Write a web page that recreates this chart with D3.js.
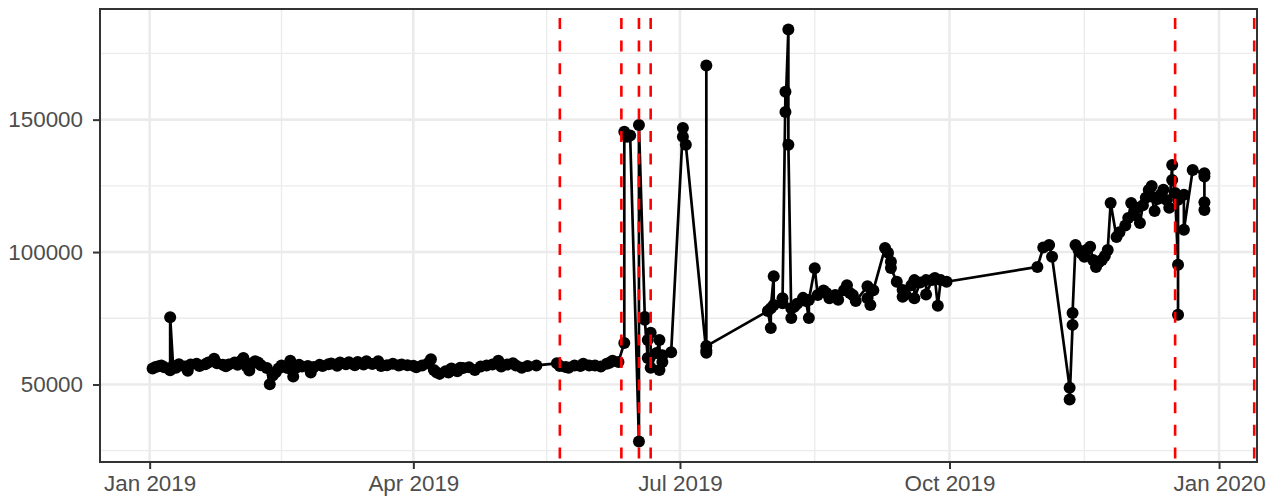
<!DOCTYPE html>
<html>
<head>
<meta charset="utf-8">
<script src="https://cdn.jsdelivr.net/npm/d3@7"></script>
<style>
  body { margin: 0; background: #fff; }
  svg text { font-family: "Liberation Sans", Arial, sans-serif; }
</style>
</head>
<body>
<svg id="chart" width="1269" height="497"></svg>
<script>
// observations, in the order they were recorded
const dates = [
  "2019-01-02","2019-01-03","2019-01-04","2019-01-05","2019-01-06","2019-01-08","2019-01-08","2019-01-09",
  "2019-01-10","2019-01-11","2019-01-13","2019-01-14","2019-01-15","2019-01-17","2019-01-18","2019-01-20",
  "2019-01-21","2019-01-23","2019-01-24","2019-01-26","2019-01-27","2019-01-28","2019-01-30","2019-01-31",
  "2019-02-01","2019-02-02","2019-02-03","2019-02-04","2019-02-05","2019-02-06","2019-02-07","2019-02-08",
  "2019-02-10","2019-02-11","2019-02-12","2019-02-13","2019-02-14","2019-02-15","2019-02-17","2019-02-18",
  "2019-02-19","2019-02-20","2019-02-21","2019-02-22","2019-02-24","2019-02-25","2019-02-26","2019-02-28",
  "2019-03-01","2019-03-03","2019-03-04","2019-03-06","2019-03-07","2019-03-09","2019-03-10","2019-03-12",
  "2019-03-13","2019-03-15","2019-03-16","2019-03-18","2019-03-20","2019-03-21","2019-03-23","2019-03-25",
  "2019-03-27","2019-03-28","2019-03-30","2019-04-01","2019-04-02","2019-04-04","2019-04-06","2019-04-07",
  "2019-04-08","2019-04-09","2019-04-10","2019-04-12","2019-04-13","2019-04-14","2019-04-16","2019-04-17",
  "2019-04-18","2019-04-20","2019-04-22","2019-04-24","2019-04-26","2019-04-28","2019-04-30","2019-05-01",
  "2019-05-03","2019-05-05","2019-05-06","2019-05-08","2019-05-10","2019-05-13","2019-05-20","2019-05-21",
  "2019-05-23","2019-05-24","2019-05-26","2019-05-28","2019-05-29","2019-05-31","2019-06-02","2019-06-04",
  "2019-06-06","2019-06-07","2019-06-08","2019-06-10","2019-06-12","2019-06-12","2019-06-13","2019-06-14",
  "2019-06-17","2019-06-17","2019-06-19","2019-06-19","2019-06-20","2019-06-20","2019-06-21","2019-06-21",
  "2019-06-23","2019-06-24","2019-06-24","2019-06-25","2019-06-25","2019-06-28","2019-07-02","2019-07-02",
  "2019-07-03","2019-07-10","2019-07-10","2019-07-10","2019-07-10","2019-07-31","2019-08-01","2019-08-01",
  "2019-08-02","2019-08-02","2019-08-05","2019-08-05","2019-08-06","2019-08-06","2019-08-07","2019-08-07",
  "2019-08-08","2019-08-08","2019-08-09","2019-08-10","2019-08-12","2019-08-13","2019-08-14","2019-08-14",
  "2019-08-16","2019-08-17","2019-08-19","2019-08-20","2019-08-21","2019-08-23","2019-08-24","2019-08-26",
  "2019-08-27","2019-08-28","2019-08-29","2019-08-30","2019-09-03","2019-09-03","2019-09-04","2019-09-05",
  "2019-09-09","2019-09-10","2019-09-11","2019-09-11","2019-09-13","2019-09-15","2019-09-15","2019-09-16",
  "2019-09-18","2019-09-19","2019-09-19","2019-09-21","2019-09-23","2019-09-23","2019-09-25","2019-09-26",
  "2019-09-27","2019-09-28","2019-09-30","2019-10-31","2019-11-02","2019-11-04","2019-11-05","2019-11-11",
  "2019-11-11","2019-11-12","2019-11-12","2019-11-13","2019-11-14","2019-11-15","2019-11-16","2019-11-17",
  "2019-11-18","2019-11-19","2019-11-20","2019-11-21","2019-11-22","2019-11-23","2019-11-24","2019-11-25",
  "2019-11-27","2019-11-28","2019-11-30","2019-12-01","2019-12-02","2019-12-03","2019-12-04","2019-12-05",
  "2019-12-06","2019-12-07","2019-12-08","2019-12-09","2019-12-09","2019-12-10","2019-12-11","2019-12-12",
  "2019-12-13","2019-12-14","2019-12-15","2019-12-16","2019-12-16","2019-12-17","2019-12-18","2019-12-18",
  "2019-12-18","2019-12-20","2019-12-20","2019-12-23","2019-12-27","2019-12-27","2019-12-27","2019-12-27"
];
const values = [
  56000, 56600, 56900, 57200, 56500, 55400, 75400, 57000,
  56300, 57600, 56800, 55200, 57500, 57800, 57000, 57600,
  58300, 59700, 58000, 57400, 56900, 57500, 58300, 57400,
  58800, 60000, 57000, 55300, 58000, 58800, 58300, 57300,
  56200, 50100, 53400, 54600, 56000, 57200, 56200, 59000,
  53000, 56300, 57400, 56800, 57000, 54500, 56600, 57400,
  57000, 57600, 57900, 57100, 58300, 57600, 58400, 57300,
  58500, 57500, 58800, 57700, 58800, 57000, 57300, 57800,
  57200, 57500, 57300, 57100, 56500, 57200, 58000, 59500,
  55500, 54500, 54000, 55000, 54500, 56000, 55000, 56300,
  56200, 56500, 55500, 56800, 57200, 57500, 59000, 56800,
  57500, 58000, 57200, 56300, 57000, 57200, 58000, 57000,
  56600, 56300, 57200, 57000, 57800, 57200, 57200, 56800,
  57800, 58200, 59000, 58500, 65700, 145400, 143500, 144000,
  28500, 148000, 75500, 74400, 60000, 66800, 69500, 56300,
  61900, 66800, 55500, 58500, 61000, 62200, 146800, 143500,
  140500, 62000, 170400, 62800, 64500, 77700, 71300, 78800,
  90900, 80000, 82600, 80700, 160500, 152900, 184000, 140500,
  75100, 78800, 79300, 80500, 82700, 81500, 75100, 81900,
  93900, 83800, 85500, 84500, 82600, 83800, 82000, 85600,
  87500, 84500, 83800, 81500, 87100, 82600, 80000, 85600,
  101500, 99700, 96300, 94000, 88800, 83100, 85700, 84000,
  87500, 89400, 82600, 88500, 89400, 84000, 89400, 90200,
  79700, 89400, 88800, 94400, 101700, 102700, 98200, 48800,
  44300, 72500, 77000, 102700, 100800, 99500, 98200, 101000,
  102000, 97000, 94400, 96200, 97000, 98500, 100800, 118500,
  105700, 107500, 110000, 112900, 118500, 114000, 116700, 111000,
  117700, 120500, 123400, 124900, 121000, 115500, 120000, 121600,
  123500, 119700, 116700, 132900, 127200, 122300, 95200, 76300,
  119700, 121600, 108400, 131000, 129800, 128500, 118800, 115900
];
// dashed reference dates
const eventDates = ["2019-05-21", "2019-06-11", "2019-06-17", "2019-06-21", "2019-12-17", "2020-01-13"];
const xBreaks = ["2019-01-01", "2019-04-01", "2019-07-01", "2019-10-01", "2020-01-01"];
const yBreaks = [50000, 100000, 150000];
const yMinorBreaks = [25000, 75000, 125000, 175000];

const parseDate = d3.timeParse("%Y-%m-%d");
const rows = dates.map((d, i) => ({date: parseDate(d), value: values[i]}));

const width = 1269, height = 497;
const margin = {top: 9, right: 12, bottom: 35, left: 100};
const innerW = width - margin.left - margin.right;
const innerH = height - margin.top - margin.bottom;

// ggplot style 5% expansion on each side
function expand(ext, mult) {
    let pad = (ext[1] - ext[0]) * mult;
    return [ext[0] - pad, ext[1] + pad];
}

const xExt = d3.extent(rows, d => d.date.getTime());
const x = d3.scaleTime()
    .domain(expand(xExt, 0.05).map(t => new Date(t)))
    .range([0, innerW]);
const y = d3.scaleLinear()
    .domain(expand(d3.extent(values), 0.05))
    .range([innerH, 0]);

const xMajor = xBreaks.map(parseDate);
const xMinor = d3.pairs(xMajor).map(p => new Date((p[0].getTime() + p[1].getTime()) / 2));

const svg = d3.select("#chart");
const g = svg.append("g").attr("transform", `translate(${margin.left},${margin.top})`);

g.append("defs").append("clipPath").attr("id", "panel")
    .append("rect").attr("width", innerW).attr("height", innerH);

// grid
const grid = g.append("g");
grid.selectAll("line.yminor").data(yMinorBreaks).join("line")
    .attr("x1", 0).attr("x2", innerW)
    .attr("y1", d => y(d)).attr("y2", d => y(d))
    .attr("stroke", "#EBEBEB").attr("stroke-width", 1.3);
grid.selectAll("line.xminor").data(xMinor).join("line")
    .attr("y1", 0).attr("y2", innerH)
    .attr("x1", d => x(d)).attr("x2", d => x(d))
    .attr("stroke", "#EBEBEB").attr("stroke-width", 1.3);
grid.selectAll("line.ymajor").data(yBreaks).join("line")
    .attr("x1", 0).attr("x2", innerW)
    .attr("y1", d => y(d)).attr("y2", d => y(d))
    .attr("stroke", "#EBEBEB").attr("stroke-width", 2.6);
grid.selectAll("line.xmajor").data(xMajor).join("line")
    .attr("y1", 0).attr("y2", innerH)
    .attr("x1", d => x(d)).attr("x2", d => x(d))
    .attr("stroke", "#EBEBEB").attr("stroke-width", 2.6);

const plot = g.append("g").attr("clip-path", "url(#panel)");

const line = d3.line()
    .x(d => x(d.date))
    .y(d => y(d.value));

plot.append("path")
    .datum(rows)
    .attr("fill", "none")
    .attr("stroke", "#000")
    .attr("stroke-width", 2.7)
    .attr("stroke-linejoin", "round")
    .attr("d", line);

plot.selectAll("circle").data(rows).join("circle")
    .attr("cx", d => x(d.date))
    .attr("cy", d => y(d.value))
    .attr("r", 6)
    .attr("fill", "#000");

plot.selectAll("line.event").data(eventDates.map(parseDate)).join("line")
    .attr("class", "event")
    .attr("x1", d => x(d)).attr("x2", d => x(d))
    .attr("y1", 0).attr("y2", innerH)
    .attr("stroke", "#FF0000")
    .attr("stroke-width", 2.6)
    .attr("stroke-dasharray", "11 11.6")
    .attr("stroke-dashoffset", 13.6);

// axes
function styleAxis(sel) {
    sel.select(".domain").remove();
    sel.selectAll(".tick line").attr("stroke", "#333333").attr("stroke-width", 2);
    sel.selectAll(".tick text")
        .attr("fill", "#4D4D4D")
        .style("font-size", "22.4px");
}

g.append("g")
    .attr("transform", `translate(0,${innerH})`)
    .call(d3.axisBottom(x)
        .tickValues(xMajor)
        .tickFormat(d3.timeFormat("%b %Y"))
        .tickSize(7)
        .tickPadding(6))
    .call(styleAxis);

g.append("g")
    .call(d3.axisLeft(y)
        .tickValues(yBreaks)
        .tickFormat(d3.format("d"))
        .tickSize(7)
        .tickPadding(10))
    .call(styleAxis);

g.append("rect")
    .attr("width", innerW)
    .attr("height", innerH)
    .attr("fill", "none")
    .attr("stroke", "#333333")
    .attr("stroke-width", 2);
</script>
</body>
</html>
